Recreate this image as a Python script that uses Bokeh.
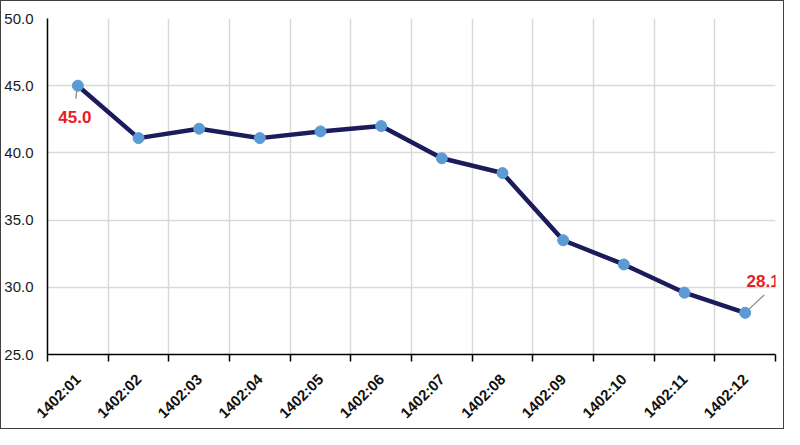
from bokeh.plotting import figure
from bokeh.models import Range1d, FixedTicker, Label, ColumnDataSource
from bokeh.embed import file_html
from bokeh.resources import INLINE
import math

months = ["1402:01", "1402:02", "1402:03", "1402:04", "1402:05", "1402:06",
          "1402:07", "1402:08", "1402:09", "1402:10", "1402:11", "1402:12"]
values = [45.0, 41.1, 41.8, 41.1, 41.6, 42.0, 39.6, 38.5, 33.5, 31.7, 29.6, 28.1]
y_ticks = [25, 30, 35, 40, 45, 50]

n = len(months)
xs = [i + 0.5 for i in range(n)]
src = ColumnDataSource(dict(x=xs, y=values, m=months))

p = figure(width=784, height=429, output_backend="svg", toolbar_location=None,
           x_range=Range1d(0, n), y_range=Range1d(25, 50),
           min_border_left=46, min_border_right=10, min_border_top=17, min_border_bottom=70)
p.outline_line_color = None
p.background_fill_color = "white"
p.border_fill_color = "white"
p.styles = {"border": "1px solid #404040", "box-sizing": "border-box"}

# grids
p.ygrid.ticker = FixedTicker(ticks=y_ticks)
p.ygrid.grid_line_color = "#d9d9d9"
p.ygrid.grid_line_width = 1.5
p.xgrid.ticker = FixedTicker(ticks=list(range(1, n + 1)))
p.xgrid.grid_line_color = "#d9d9d9"
p.xgrid.grid_line_width = 1.5

# y axis
p.yaxis.ticker = FixedTicker(ticks=y_ticks)
p.yaxis.major_label_overrides = {t: f"{t:.1f}" for t in y_ticks}
p.yaxis.major_tick_out = 0
p.yaxis.major_tick_in = 0
p.yaxis.minor_tick_out = 0
p.yaxis.minor_tick_in = 0
p.yaxis.axis_line_color = "black"
p.yaxis.axis_line_width = 1.5
p.yaxis.major_label_standoff = 14
p.yaxis.major_label_text_font = "Liberation Sans"
p.yaxis.major_label_text_font_size = "15px"
p.yaxis.major_label_text_color = "#1a1a1a"

# x axis: labels at centers, tick marks at boundaries (minor)
p.xaxis.ticker = FixedTicker(ticks=xs, minor_ticks=list(range(0, n + 1)))
p.xaxis.major_label_overrides = {x: m for x, m in zip(xs, months)}
p.xaxis.major_tick_out = 0
p.xaxis.major_tick_in = 0
p.xaxis.minor_tick_out = 7
p.xaxis.minor_tick_in = 0
p.xaxis.minor_tick_line_color = "black"
p.xaxis.minor_tick_line_width = 1.5
p.xaxis.axis_line_color = "black"
p.xaxis.axis_line_width = 1.5
p.xaxis.major_label_orientation = math.pi / 4
p.xaxis.major_label_standoff = 15
p.xaxis.major_label_text_font = "Liberation Sans"
p.xaxis.major_label_text_font_style = "bold"
p.xaxis.major_label_text_font_size = "15px"
p.xaxis.major_label_text_color = "#111111"

# series
p.line("x", "y", source=src, line_color="#1c1c5c", line_width=4.5)
p.scatter("x", "y", source=src, size=11, fill_color="#5b9bd5", line_color="#5b9bd5")

# annotations (first and last), leader lines offset in screen pixels
FW_EST, FH_EST = 726, 339
px_x = FW_EST / n
px_y = FH_EST / 25.0
ann = [(0, -3, -31, (-1, -4), (-2, -13)), (n - 1, 18, 32, (3, 3), (19, 18))]
for idx, ox, oy, s0, s1 in ann:
    x0 = xs[idx] + s0[0] / px_x
    y0 = values[idx] + s0[1] / px_y
    x1 = xs[idx] + s1[0] / px_x
    y1 = values[idx] + s1[1] / px_y
    p.segment(x0=[x0], y0=[y0], x1=[x1], y1=[y1], line_color="#8c8c8c", line_width=1.3)
    p.add_layout(Label(x=xs[idx], y=values[idx], x_offset=ox, y_offset=oy,
                       text=f"{values[idx]:.1f}", text_align="center", text_baseline="middle",
                       text_color="#e8201f", text_font="Liberation Sans",
                       text_font_style="bold", text_font_size="17px"))

open("out.html", "w").write(file_html(p, INLINE))
